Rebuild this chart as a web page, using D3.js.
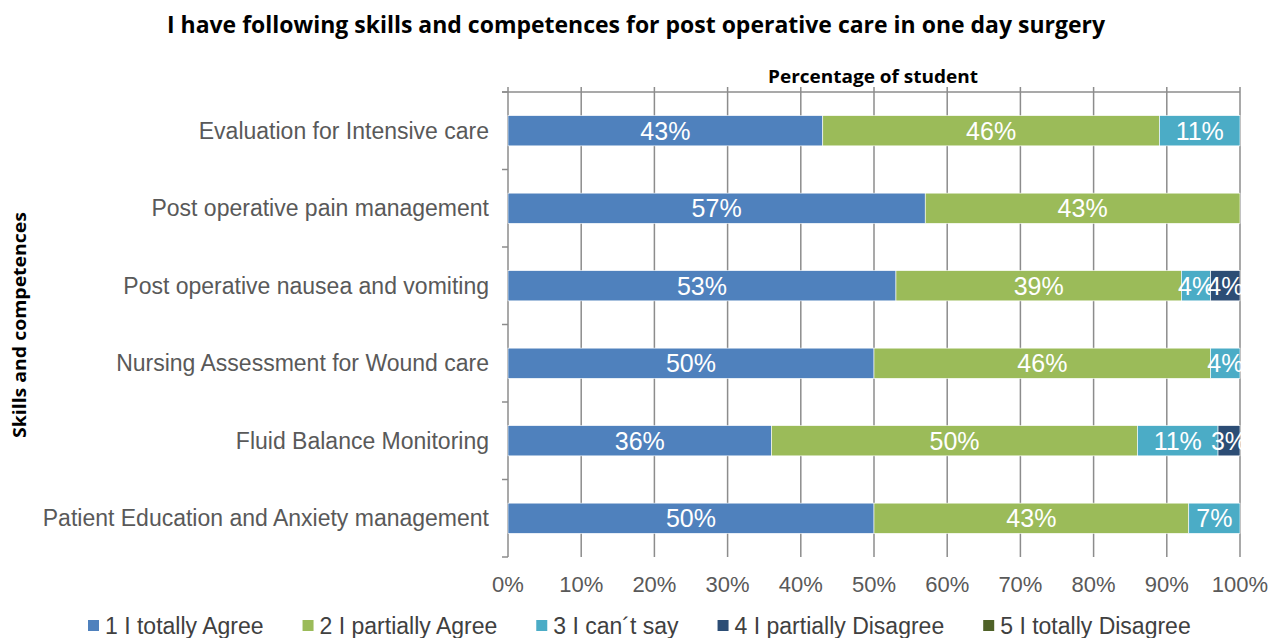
<!DOCTYPE html>
<html>
<head>
<meta charset="utf-8">
<script src="https://cdn.jsdelivr.net/npm/d3@7"></script>
<style>
  body { margin: 0; background: #fff; }
  svg { font-family: "Liberation Sans", Arial, sans-serif; }
</style>
</head>
<body>
<svg id="chart" width="1280" height="638"></svg>
<script>
// categories, top to bottom
var categories = [
  "Evaluation for Intensive care",
  "Post operative pain management",
  "Post operative nausea and vomiting",
  "Nursing Assessment for Wound care",
  "Fluid Balance Monitoring",
  "Patient Education and Anxiety management"
];

var seriesNames = ["1 I totally Agree", "2 I partially Agree", "3 I can´t say", "4 I partially Disagree", "5 I totally Disagree"];
var seriesColors = ["#4F81BD", "#9BBB59", "#4BACC6", "#2C4D75", "#4F6228"];

// percent values per series, same order as categories
var totallyAgree = [43, 57, 53, 50, 36, 50];
var partiallyAgree = [46, 43, 39, 46, 50, 43];
var cantSay = [11, 0, 4, 4, 11, 7];
var partiallyDisagree = [0, 0, 4, 0, 3, 0];
var totallyDisagree = [0, 0, 0, 0, 0, 0];

var xTicks = [0, 10, 20, 30, 40, 50, 60, 70, 80, 90, 100];

var series = [totallyAgree, partiallyAgree, cantSay, partiallyDisagree, totallyDisagree];

var rows = categories.map(function(c, i) {
  var row = { name: c };
  seriesNames.forEach(function(s, j) { row[s] = series[j][i]; });
  return row;
});

var svg = d3.select("#chart");
var plotL = 508, plotR = 1240, plotT = 92, plotB = 557;
var gray = "#595959";
var lineGray = "#8C8C8C";

var x = d3.scaleLinear().domain([0, 100]).range([plotL, plotR]);
var y = d3.scaleBand().domain(categories).range([plotT, plotB]).paddingInner(0.61).paddingOuter(0.305);
var yEdge = d3.scaleLinear().domain([0, categories.length]).range([plotT, plotB]);

// title
svg.append("text")
  .attr("x", 636).attr("y", 33)
  .attr("text-anchor", "middle")
  .attr("font-family", "'Open Sans', sans-serif")
  .attr("font-weight", "bold")
  .attr("font-size", 23)
  .attr("textLength", 938).attr("lengthAdjust", "spacingAndGlyphs")
  .attr("fill", "#000")
  .text("I have following skills and competences for post operative care in one day surgery");

svg.append("text")
  .attr("x", 873).attr("y", 83)
  .attr("text-anchor", "middle")
  .attr("font-family", "'Open Sans', sans-serif")
  .attr("font-weight", "bold")
  .attr("font-size", 17)
  .attr("textLength", 210).attr("lengthAdjust", "spacingAndGlyphs")
  .text("Percentage of student");

svg.append("text")
  .attr("transform", "translate(26,325) rotate(-90)")
  .attr("text-anchor", "middle")
  .attr("font-family", "'Open Sans', sans-serif")
  .attr("font-weight", "bold")
  .attr("font-size", 17)
  .attr("textLength", 226).attr("lengthAdjust", "spacingAndGlyphs")
  .text("Skills and competences");

// gridlines + top axis
var grid = svg.append("g");
grid.selectAll("line.grid")
  .data(xTicks)
  .enter().append("line")
  .attr("x1", function(d) { return x(d); })
  .attr("x2", function(d) { return x(d); })
  .attr("y1", plotT - 5).attr("y2", plotB)
  .attr("stroke", lineGray).attr("stroke-width", 1.5);

grid.append("line")
  .attr("x1", plotL - 6).attr("x2", plotR)
  .attr("y1", plotT).attr("y2", plotT)
  .attr("stroke", lineGray).attr("stroke-width", 1.5);

// left axis category ticks
grid.selectAll("line.ytick")
  .data(d3.range(categories.length + 1))
  .enter().append("line")
  .attr("x1", plotL - 6).attr("x2", plotL)
  .attr("y1", function(d) { return yEdge(d); })
  .attr("y2", function(d) { return yEdge(d); })
  .attr("stroke", lineGray).attr("stroke-width", 1.5);

// stacked bars
var stack = d3.stack().keys(seriesNames)(rows);

var layer = svg.selectAll("g.layer")
  .data(stack)
  .enter().append("g")
  .attr("class", "layer")
  .attr("fill", function(d, i) { return seriesColors[i]; });

layer.selectAll("rect")
  .data(function(d) { return d; })
  .enter().append("rect")
  .attr("x", function(d) { return x(d[0]); })
  .attr("y", function(d) { return y(d.data.name); })
  .attr("width", function(d) { return x(d[1]) - x(d[0]); })
  .attr("height", y.bandwidth())
  .attr("stroke", "#fff").attr("stroke-width", 0.6);

layer.selectAll("text")
  .data(function(d) { return d.filter(function(p) { return p[1] - p[0] > 0; }); })
  .enter().append("text")
  .attr("x", function(d) { return (x(d[0]) + x(d[1])) / 2; })
  .attr("y", function(d) { return y(d.data.name) + y.bandwidth() / 2 + 9; })
  .attr("text-anchor", "middle")
  .attr("font-size", 25)
  .attr("fill", "#fff")
  .text(function(d) { return Math.round(d[1] - d[0]) + "%"; });

// category labels
svg.selectAll("text.cat")
  .data(categories)
  .enter().append("text")
  .attr("class", "cat")
  .attr("x", 489)
  .attr("y", function(d) { return y(d) + y.bandwidth() / 2 + 8; })
  .attr("text-anchor", "end")
  .attr("font-size", 23)
  .attr("fill", gray)
  .text(function(d) { return d; });

// x tick labels
svg.selectAll("text.xt")
  .data(xTicks)
  .enter().append("text")
  .attr("x", function(d) { return x(d); })
  .attr("y", 592)
  .attr("text-anchor", "middle")
  .attr("font-size", 22)
  .attr("fill", gray)
  .text(function(d) { return d + "%"; });

// legend, laid out left to right
var legend = svg.append("g").attr("transform", "translate(0,634)");
var lx = 88;
seriesNames.forEach(function(name, i) {
  legend.append("rect")
    .attr("x", lx).attr("y", -14)
    .attr("width", 11).attr("height", 11)
    .attr("fill", seriesColors[i]);
  var t = legend.append("text")
    .attr("x", lx + 17).attr("y", 0)
    .attr("font-size", 23)
    .attr("fill", "#404040")
    .text(name);
  lx += 17 + t.node().getComputedTextLength() + 39;
});
</script>
</body>
</html>
